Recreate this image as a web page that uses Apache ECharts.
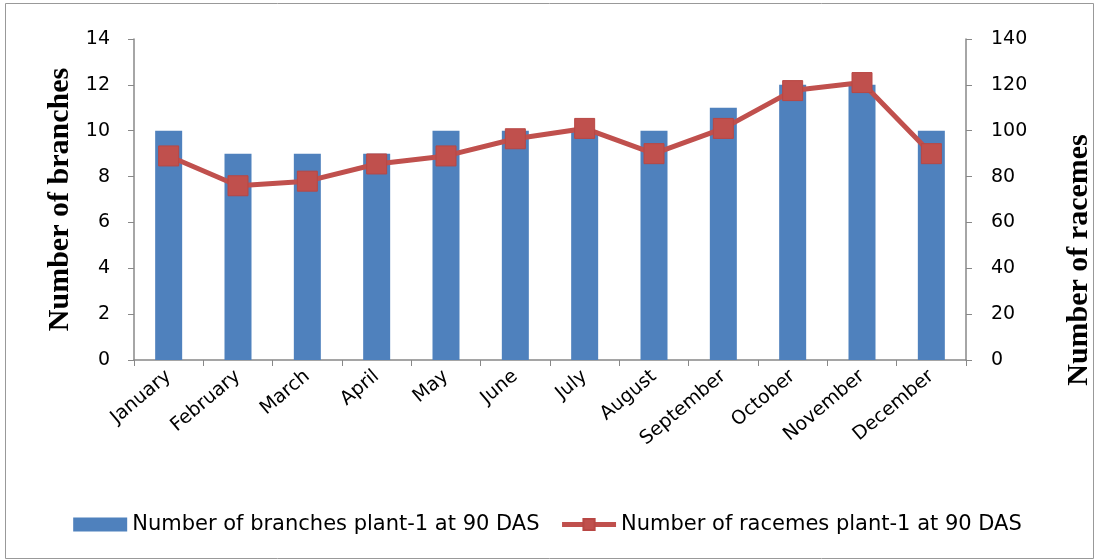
<!DOCTYPE html>
<html><head><meta charset="utf-8">
<script src="https://cdn.jsdelivr.net/npm/echarts@6/dist/echarts.min.js"></script>
<style>html,body{margin:0;padding:0;background:#fff}#c{width:1095px;height:559px}</style>
</head><body><div id="c"></div>
<script>
const categories = ['January','February','March','April','May','June','July','August','September','October','November','December'];
const branches = [10,9,9,9,10,10,10,10,11,12,12,10];
const racemes = [89,76,78,85.5,89,96.5,101,90,101,117.5,121,90];
const leftTicks = {min:0,max:14,interval:2};
const rightTicks = {min:0,max:140,interval:20};
const seriesNames = ['Number of branches plant-1 at 90 DAS','Number of racemes plant-1 at 90 DAS'];

const chart = echarts.init(document.getElementById('c'));
const font = '"DejaVu Sans", sans-serif';
const serif = '"Liberation Serif", "DejaVu Serif", serif';
chart.setOption({
  animation:false,
  backgroundColor:'#fff',
  grid:{left:134,right:129,top:39,bottom:199,containLabel:false},
  legend:{
    bottom:19,left:'center',itemGap:20,
    textStyle:{fontFamily:font,fontSize:21,color:'#000'},
    data:[
      {name:seriesNames[0],icon:'rect'},
      {name:seriesNames[1],lineStyle:{width:5,color:'#C0504D'}}
    ],
    itemWidth:54,itemHeight:14
  },
  xAxis:{
    type:'category',data:categories,boundaryGap:true,
    axisLine:{lineStyle:{color:'#888',width:1.5}},
    axisTick:{show:true,alignWithLabel:false,length:6,lineStyle:{color:'#888'}},
    axisLabel:{rotate:40,interval:0,fontFamily:font,fontSize:19,color:'#000',margin:14}
  },
  yAxis:[
    {type:'value',min:leftTicks.min,max:leftTicks.max,interval:leftTicks.interval,
     name:'Number of branches',nameLocation:'middle',nameRotate:90,nameGap:57,
     nameTextStyle:{fontFamily:serif,fontWeight:'bold',fontSize:30,color:'#000'},
     axisLine:{show:true,lineStyle:{color:'#888',width:1.5}},
     axisTick:{show:true,length:6,lineStyle:{color:'#888'}},
     splitLine:{show:false},
     axisLabel:{fontFamily:font,fontSize:19,color:'#000',margin:24}},
    {type:'value',min:rightTicks.min,max:rightTicks.max,interval:rightTicks.interval,position:'right',
     axisLine:{show:true,lineStyle:{color:'#888',width:1.5}},
     axisTick:{show:true,length:6,lineStyle:{color:'#888'}},
     splitLine:{show:false},
     axisLabel:{fontFamily:font,fontSize:19,color:'#000',margin:25}}
  ],
  graphic:[
    {type:'rect',left:3,top:1,shape:{width:1088,height:555},style:{fill:'none',stroke:'#999',lineWidth:1},silent:true,z:-1},
    {type:'text',x:1079,y:260,rotation:Math.PI/2,
     style:{text:'Number of racemes',fontFamily:serif,fontWeight:'bold',fontSize:30,fill:'#000',textAlign:'center',textVerticalAlign:'middle'}}
  ],
  series:[
    {name:seriesNames[0],type:'bar',data:branches,yAxisIndex:0,barWidth:27,
     itemStyle:{color:'#4F81BD'}},
    {name:seriesNames[1],type:'line',data:racemes,yAxisIndex:1,
     symbol:'rect',symbolSize:20,
     lineStyle:{color:'#C0504D',width:5},
     itemStyle:{color:'#C0504D',borderColor:'#B84744',borderWidth:1}}
  ]
});
</script></body></html>
